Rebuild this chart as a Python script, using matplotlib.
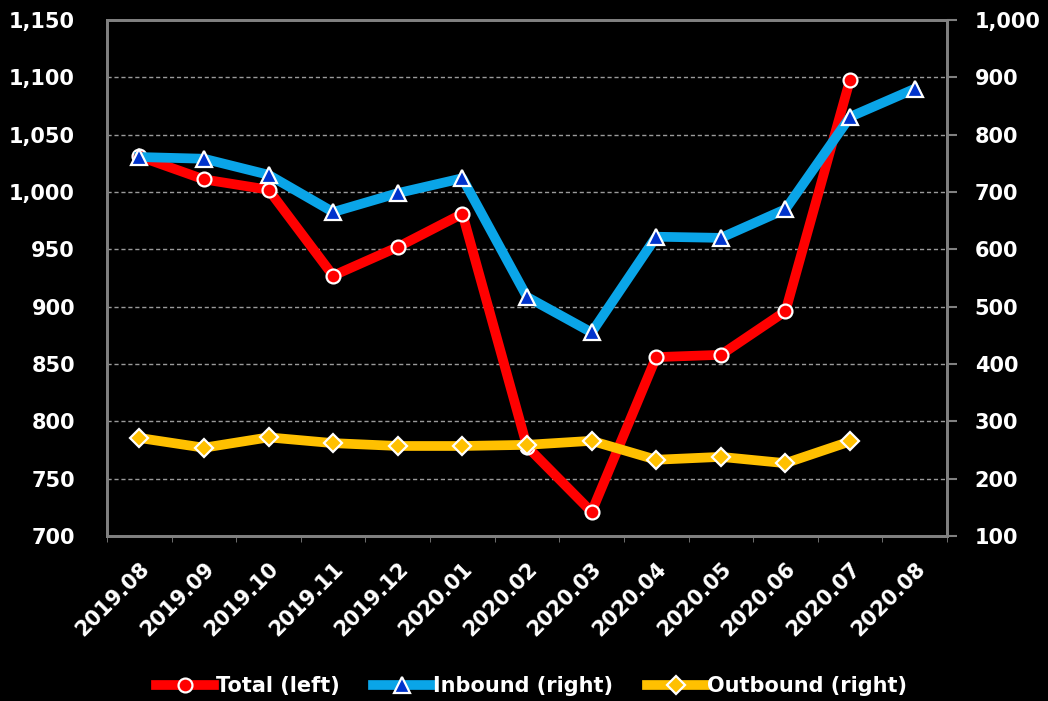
import matplotlib
matplotlib.use("Agg")
import matplotlib.pyplot as plt
from matplotlib.ticker import FuncFormatter, FixedLocator
import numpy as np

months = ["2019.08", "2019.09", "2019.10", "2019.11", "2019.12", "2020.01",
          "2020.02", "2020.03", "2020.04", "2020.05", "2020.06", "2020.07", "2020.08"]
total_left = [1031, 1011, 1002, 927, 952, 981, 778, 721, 856, 858, 896, 1098, None]
inbound_right = [761, 758, 730, 665, 698, 724, 517, 455, 622, 620, 670, 831, 880]
outbound_right = [271, 254, 272, 262, 257, 257, 259, 266, 233, 238, 227, 265, None]

left_ticks = [700, 750, 800, 850, 900, 950, 1000, 1050, 1100, 1150]
right_ticks = [100, 200, 300, 400, 500, 600, 700, 800, 900, 1000]

FONT = ["DejaVu Sans"]
plt.rcParams['font.family'] = FONT
plt.rcParams['font.weight'] = 'bold'
FS = 15

fig = plt.figure(figsize=(10.48, 7.01), dpi=100, facecolor="black")
ax = fig.add_axes([107/1048, 1 - 536/701, 840/1048, 516/701])
ax.set_facecolor("black")
ax2 = ax.twinx()

x = np.arange(len(months))
def arr(v):
    return np.array([np.nan if a is None else a for a in v], dtype=float)

l1, = ax.plot(x, arr(total_left), color="#FF0000", lw=7, marker="o", ms=10,
              mfc="#FF0000", mec="white", mew=1.6, label="Total (left)", zorder=3)
l2, = ax2.plot(x, arr(inbound_right), color="#0AA5E8", lw=7, marker="^", ms=11,
               mfc="#0033CC", mec="white", mew=1.6, label="Inbound (right)", zorder=3)
l3, = ax2.plot(x, arr(outbound_right), color="#FFC000", lw=7, marker="D", ms=9,
               mfc="#FFC000", mec="white", mew=1.6, label="Outbound (right)", zorder=3)

ax.set_xlim(-0.5, len(months) - 0.5)
ax.set_ylim(700, 1150)
ax2.set_ylim(100, 1000)
ax.set_yticks(left_ticks)
ax2.set_yticks(right_ticks)
fmt = FuncFormatter(lambda v, p: f"{int(v):,}")
ax.yaxis.set_major_formatter(fmt)
ax2.yaxis.set_major_formatter(fmt)

for t in left_ticks[1:-1]:
    ax.axhline(t, color="#9a9a9a", lw=1, ls=(0, (3, 2)), zorder=1)

ax.set_xticks(x)
ax.set_xticklabels(months, rotation=45, ha="right", va="top", rotation_mode="anchor",
                   fontsize=FS, fontweight="bold", color="white")
ax.xaxis.set_minor_locator(FixedLocator(np.arange(-0.5, len(months), 1)))
ax.tick_params(axis="x", which="major", length=0, pad=16)
ax.tick_params(axis="x", which="minor", length=4, color="#808080", direction="out")
ax.tick_params(axis="y", length=0, labelsize=FS, labelcolor="white", pad=23)
ax2.tick_params(axis="y", length=7, width=1.5, color="#808080", labelsize=FS,
                labelcolor="white", pad=13)
for lab in ax.get_yticklabels() + ax2.get_yticklabels():
    lab.set_fontweight("bold")

for a in (ax, ax2):
    for s in a.spines.values():
        s.set_color("#808080")
        s.set_linewidth(2)

leg = fig.legend(handles=[l1, l2, l3], loc="center", bbox_to_anchor=(0.507, 1 - 686/701),
                 ncol=3, frameon=False, fontsize=FS, handlelength=2.8,
                 handletextpad=0.1, columnspacing=1.6)
for t in leg.get_texts():
    t.set_color("white")
    t.set_fontweight("bold")

fig.savefig("out.png", dpi=100, facecolor="black")
